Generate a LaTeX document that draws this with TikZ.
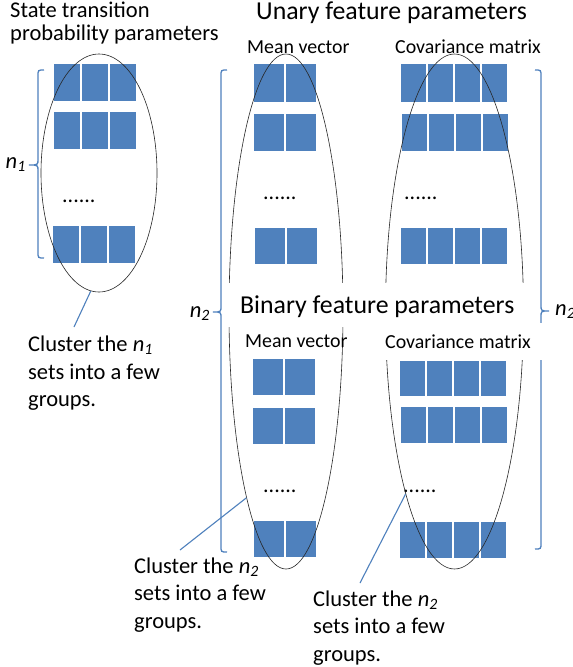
\documentclass[tikz,border=0pt]{standalone}
\usepackage{fontspec}
\setmainfont{Carlito}
\usetikzlibrary{shapes.geometric}
\definecolor{officeblue}{HTML}{4F81BD}

% one row of parameter cells: name, left, top, count, cell width, cell height
\newcommand\cellrow[6]{%
  \foreach \k in {1,...,#4}{%
    \node[cellbox,minimum width=#5pt,minimum height=#6pt,anchor=north west]
      (#1-\k) at ({#2+(\k-1)*#5},#3) {};}}

\begin{document}
\begin{tikzpicture}[x=1pt,y=-1pt,
  cellbox/.style={rectangle,fill=officeblue,draw=white,line width=1.4pt,inner sep=0pt,outer sep=0pt},
  ring/.style={ellipse,draw=black!85,line width=0.6pt,inner sep=0pt},
  bracepath/.style={draw=officeblue,line width=1.3pt},
  callout/.style={draw=officeblue,line width=1.1pt},
  body/.style={font=\fontsize{22.5}{27.5}\selectfont,inner sep=0pt,anchor=base west,align=left},
  title/.style={font=\fontsize{25.8}{30}\selectfont,inner sep=0pt,anchor=base west},
  sublabel/.style={font=\fontsize{19.9}{24}\selectfont,inner sep=0pt,anchor=base west},
  dotrow/.style={font=\fontsize{22}{27}\selectfont,inner sep=0pt,anchor=base west},
]
\fill[white] (0,0) rectangle (573,667);
\useasboundingbox (0,0) rectangle (573,667);

% ---- state transition parameters
\cellrow{sa}{53}{63}{3}{28}{39}
\cellrow{sb}{53}{111}{3}{28}{39}
\cellrow{sc}{52}{225}{3}{28}{39}
\node[dotrow] (sdots) at (62,202) {......};

% ---- unary feature parameters
\cellrow{uma}{253}{63}{2}{32}{40}
\cellrow{umb}{253}{113}{2}{32}{39}
\cellrow{umc}{254}{227}{2}{32}{38}
\node[dotrow] (umdots) at (263,199) {......};
\cellrow{uca}{400}{63}{4}{27}{40}
\cellrow{ucb}{401}{113}{4}{27}{39}
\cellrow{ucc}{400}{227}{4}{27}{38}
\node[dotrow] (ucdots) at (404,199) {......};

% ---- binary feature parameters
\cellrow{bma}{252}{358}{2}{32}{38}
\cellrow{bmb}{252}{407}{2}{32}{38}
\cellrow{bmc}{253}{520}{2}{32}{38}
\node[dotrow] (bmdots) at (263,492) {......};
\cellrow{bca}{399}{360}{4}{27}{37}
\cellrow{bcb}{400}{406}{4}{27}{38}
\cellrow{bcc}{399}{521}{4}{27}{38}
\node[dotrow] (bcdots) at (403,492) {......};

% ---- cluster rings
\node[ring,minimum width=116pt,minimum height=238pt] (e1) at (99,173) {};
\node[ring,minimum width=114pt,minimum height=515pt] (e2) at (286,311.5) {};
\node[ring,minimum width=138pt,minimum height=515pt] (e3) at (454.5,311.5) {};

% ---- braces
\draw[bracepath] (44,70) .. controls (38,70) .. (38,76) -- (38,159)
  .. controls (38,165) .. (29,165) .. controls (38,165) .. (38,171)
  -- (38,252) .. controls (38,258) .. (44,258);
\draw[bracepath] (227,70) .. controls (221,70) .. (221,76) -- (221,306)
  .. controls (221,312) .. (213,312) .. controls (221,312) .. (221,318)
  -- (221,546) .. controls (221,552) .. (227,552);
\draw[bracepath] (535,70) .. controls (541,70) .. (541,76) -- (541,305)
  .. controls (541,311) .. (549,311) .. controls (541,311) .. (541,317)
  -- (541,543) .. controls (541,549) .. (535,549);

% ---- text with white backing
\fill[white] (224,283) rectangle (532,327);
\fill[white] (380,323) rectangle (548,360);

\node[body] (st1) at (10,17) {State transition};
\node[body] (st2) at (10,40) {probability parameters};
\node[title] (unary) at (256,19) {Unary feature parameters};
\node[title] (binary) at (240,313) {Binary feature parameters};
\node[sublabel] (umlab) at (247,53) {Mean vector};
\node[sublabel] (uclab) at (395,53) {Covariance matrix};
\node[sublabel] (bmlab) at (245,347) {Mean vector};
\node[sublabel] (bclab) at (385,348) {Covariance matrix};

\node[body,anchor=base east] (n1lab) at (26,168) {\itshape n\textsubscript{1}};
\node[body,anchor=base east] (n2left) at (210,317) {\itshape n\textsubscript{2}};
\node[body] (n2right) at (555,315) {\itshape n\textsubscript{2}};

% ---- callouts (node base sits on the last line)
\node[body] (c1) at (28,406.5) {Cluster the {\itshape n\textsubscript{1}}\\sets into a few\\groups.};
\node[body] (c2) at (134,628) {Cluster the {\itshape n\textsubscript{2}}\\sets into a few\\groups.};
\node[body] (c3) at (313,661) {Cluster the {\itshape n\textsubscript{2}}\\sets into a few\\groups.};
\coordinate (c1end) at (74,327);
\coordinate (c2end) at (180,550);
\coordinate (c3end) at (360,583);
\draw[callout] (e1.-94) -- (c1end);
\draw[callout] (e2.-102) -- (c2end);
\draw[callout] (e3.-105) -- (c3end);
\end{tikzpicture}
\end{document}
